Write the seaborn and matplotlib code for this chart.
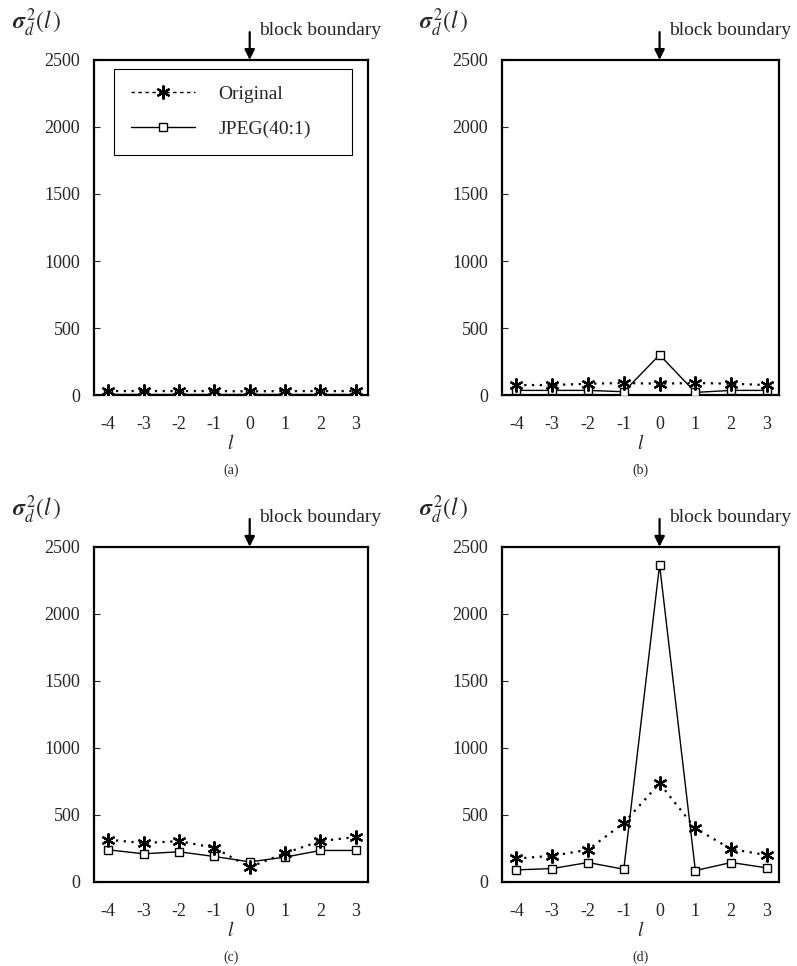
import matplotlib
matplotlib.use("Agg")
import matplotlib.pyplot as plt
from matplotlib.lines import Line2D
import seaborn as sns
import pandas as pd

# lag positions across the block boundary
lags = [-4, -3, -2, -1, 0, 1, 2, 3]
x_ticks = lags
y_ticks = [0, 500, 1000, 1500, 2000, 2500]

# variance of the difference signal
orig_a = [30, 30, 30, 30, 28, 30, 30, 30]
jpeg_a = [5, 5, 5, 5, 5, 5, 5, 5]
orig_b = [75, 75, 85, 90, 85, 90, 85, 75]
jpeg_b = [35, 35, 35, 25, 300, 20, 35, 35]
orig_c = [315, 290, 305, 255, 110, 215, 305, 335]
jpeg_c = [240, 210, 225, 190, 150, 185, 235, 235]
orig_d = [175, 195, 240, 440, 735, 400, 245, 200]
jpeg_d = [90, 100, 145, 95, 2365, 85, 145, 105]

panel_names = ["(a)", "(b)", "(c)", "(d)"]
series_labels = ["Original", "JPEG(40:1)"]

sns.set_style("white")
plt.rcParams["font.family"] = ["Liberation Serif", "DejaVu Serif"]
plt.rcParams["mathtext.fontset"] = "stix"
plt.rcParams["axes.unicode_minus"] = False

fig = plt.figure(figsize=(7.97, 9.66), dpi=100)

# axes rectangles in figure fraction
rects = [
    (0.118, 0.591, 0.344, 0.347),
    (0.630, 0.591, 0.348, 0.347),
    (0.118, 0.087, 0.344, 0.347),
    (0.630, 0.087, 0.348, 0.347),
]
originals = [orig_a, orig_b, orig_c, orig_d]
jpegs = [jpeg_a, jpeg_b, jpeg_c, jpeg_d]

star = (6, 2, 0)  # six-armed asterisk

for rect, orig, jpeg, name in zip(rects, originals, jpegs, panel_names):
    ax = fig.add_axes(rect)
    df = pd.DataFrame({"l": lags, "orig": orig, "jpeg": jpeg})

    sns.lineplot(data=df, x="l", y="jpeg", ax=ax, color="black", linewidth=1.0,
                 marker="s", markersize=6, markerfacecolor="white",
                 markeredgecolor="black", markeredgewidth=1.0, zorder=3)
    sns.lineplot(data=df, x="l", y="orig", ax=ax, color="black", linewidth=1.6,
                 linestyle=(0, (1, 2.5)), marker=star, markersize=10,
                 markeredgewidth=1.6, markeredgecolor="black", zorder=4)

    ax.set_xlim(-4.4, 3.35)
    ax.set_ylim(0, 2500)
    ax.set_xticks(x_ticks)
    ax.set_yticks(y_ticks)
    ax.tick_params(axis="x", length=0, pad=15, labelsize=13)
    ax.tick_params(axis="y", direction="in", length=4, width=0.8, pad=10,
                   labelsize=13, left=True)
    for sp in ax.spines.values():
        sp.set_visible(True)
        sp.set_color("black")
        sp.set_linewidth(1.6)
    ax.set_xlabel("$l$", fontsize=14, labelpad=1)
    ax.set_ylabel("")

    # arrow marking the block boundary
    ax.annotate("", xy=(0, 1.0), xycoords=("data", "axes fraction"),
                xytext=(0, 20), textcoords="offset points", annotation_clip=False,
                arrowprops=dict(arrowstyle="-|>,head_width=0.3,head_length=0.6",
                                color="black", lw=1.6, shrinkA=0, shrinkB=0))
    ax.annotate("block boundary", xy=(0, 1.0), xycoords=("data", "axes fraction"),
                xytext=(7, 21), textcoords="offset points", fontsize=14,
                ha="left", va="center", annotation_clip=False)

    ax.text(-0.30, 1.11, r"$\boldsymbol{\sigma}_d^{\,2}(l\,)$", transform=ax.transAxes,
            fontsize=17, ha="left", va="center")

    fig.text(rect[0] + rect[2] / 2, rect[1] - 0.078, name, ha="center", va="center",
             fontsize=10)

    if name == "(a)":
        handles = [
            Line2D([], [], color="black", linestyle=(0, (2.5, 2.5)), linewidth=1.0,
                   marker=star, markersize=10, markeredgewidth=1.6),
            Line2D([], [], color="black", linewidth=1.0, marker="s", markersize=6,
                   markerfacecolor="white", markeredgewidth=1.0),
        ]
        leg = ax.legend(handles, series_labels, loc="upper left",
                        bbox_to_anchor=(0.074, 0.732, 0.866, 0.241), mode="expand",
                        frameon=True, fancybox=False, framealpha=1,
                        edgecolor="black", fontsize=14, handlelength=3.3,
                        borderpad=0.85, labelspacing=0.9, handletextpad=1.2,
                        borderaxespad=0)
        leg.get_frame().set_linewidth(0.8)

fig.savefig("out.png", dpi=100)
